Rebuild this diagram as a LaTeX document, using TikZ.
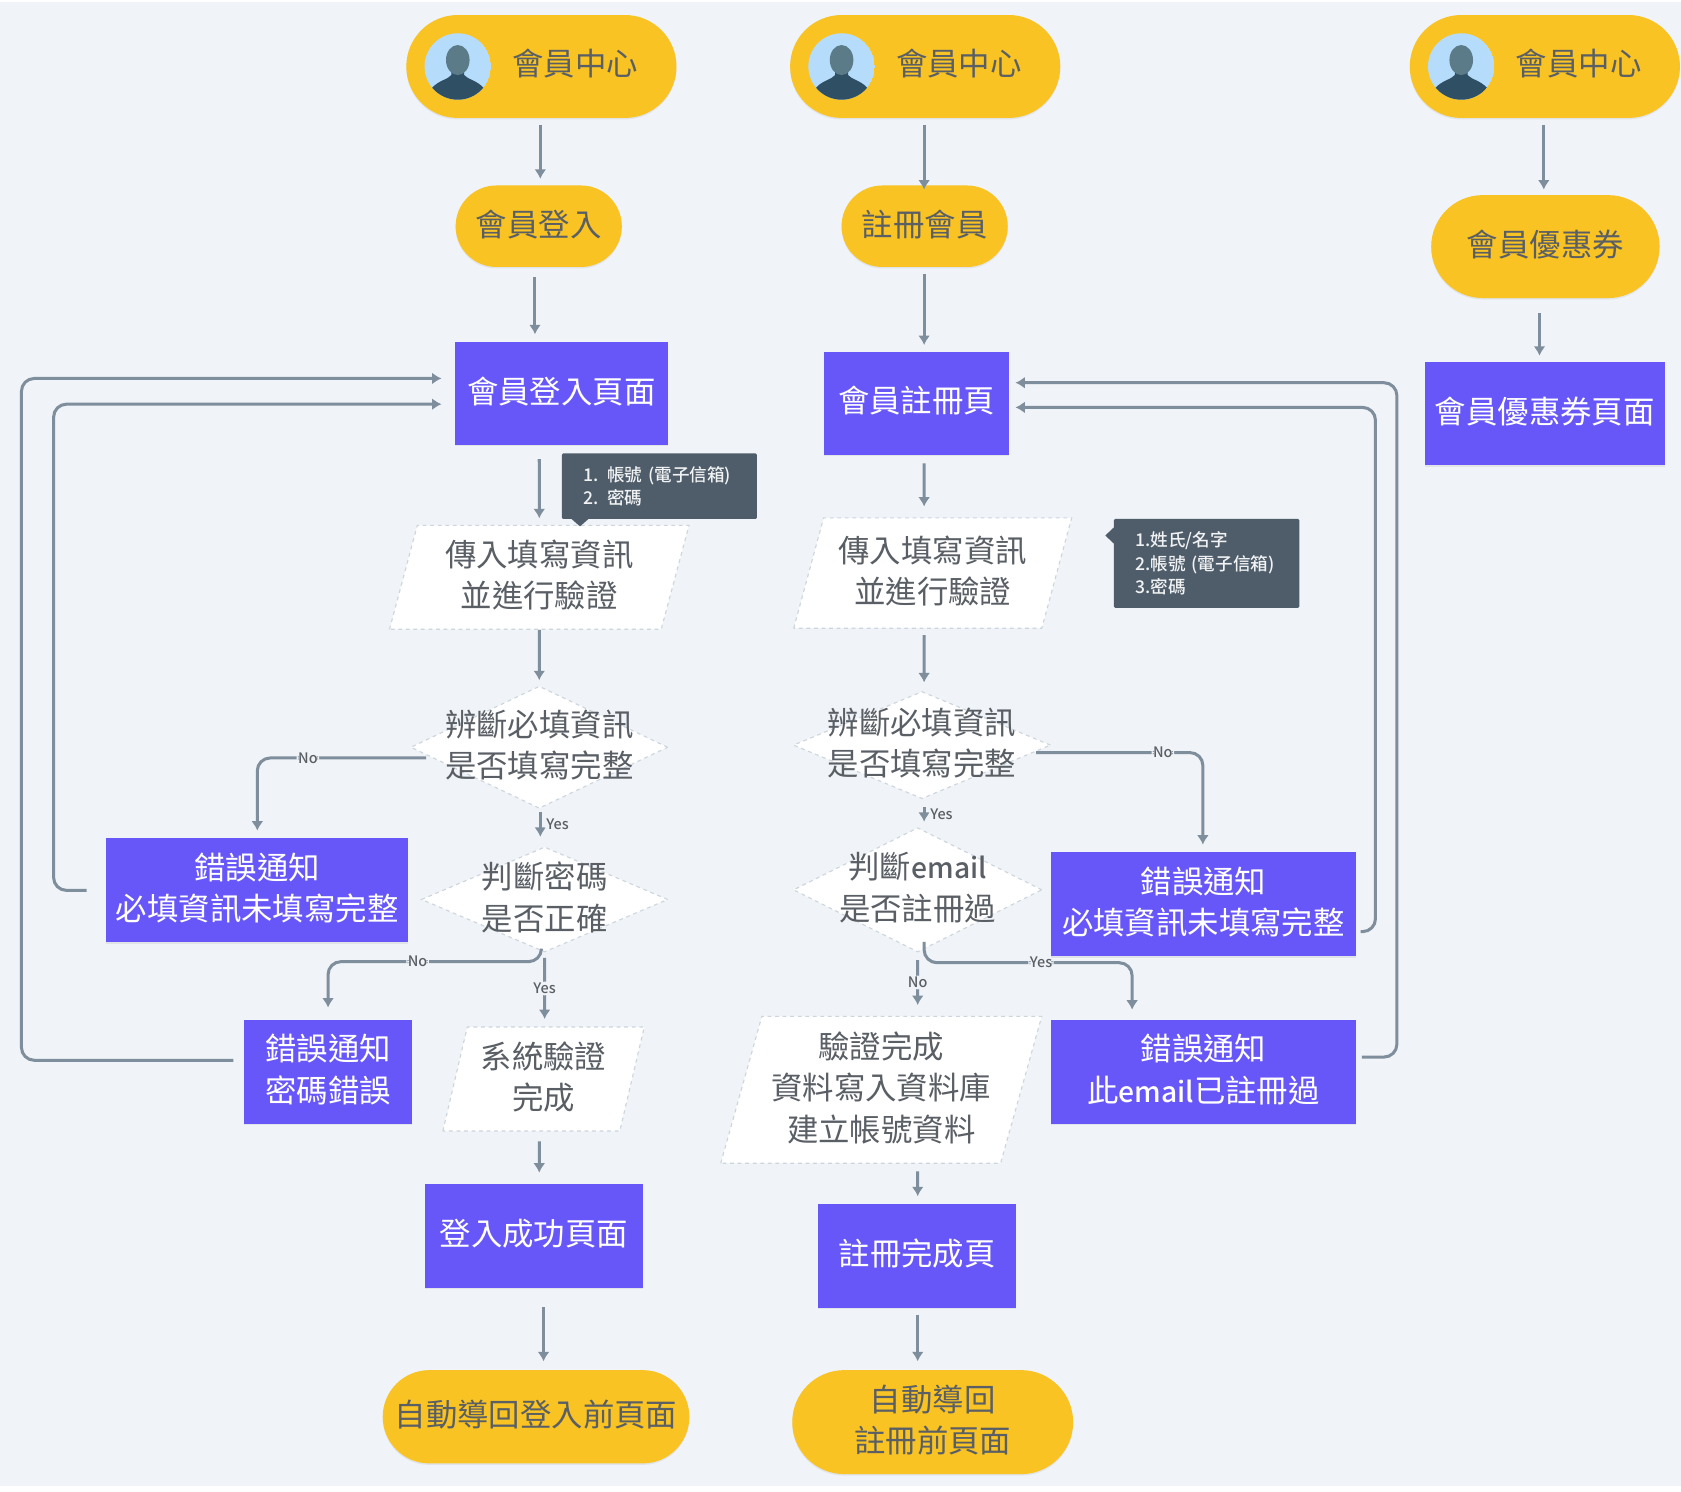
\documentclass[tikz,border=0pt]{standalone}
\usepackage{fontspec}
\setmainfont{Noto Sans CJK TC}[BoldFont={Noto Sans CJK TC Medium}]
\usepackage{xcolor}
\usepackage{tikz}
\usetikzlibrary{arrows.meta,shapes.geometric,shapes.misc,shadows}
\definecolor{bgc}{HTML}{F0F3F7}
\definecolor{pillc}{HTML}{F8C323}
\definecolor{boxc}{HTML}{6857F8}
\definecolor{linec}{HTML}{7F8E9C}
\definecolor{notec}{HTML}{4F5D6B}
\definecolor{edgec}{HTML}{CDD5DD}
\definecolor{inkc}{HTML}{5A5F66}
\definecolor{skyc}{HTML}{B5DCFA}
\definecolor{headc}{HTML}{5C7B88}
\definecolor{bodyc}{HTML}{2F5064}
\newcommand{\mailword}{\textbf{\fontsize{22.5}{33}\selectfont email}}
\tikzset{
    softshadow/.style={drop shadow={shadow xshift=0pt,shadow yshift=-1.2pt,opacity=.13}},
    bigtext/.style={font=\fontsize{25}{33}\selectfont,text depth=5.5pt},
    pill/.style 2 args={shape=rounded rectangle,fill=pillc,softshadow,inner sep=0pt,align=center,text=inkc,
        bigtext,minimum width=#1*0.03cm,minimum height=#2*0.03cm},
    box/.style 2 args={fill=boxc,softshadow,inner sep=0pt,align=center,text=white,
        bigtext,minimum width=#1*0.03cm,minimum height=#2*0.03cm},
    para/.style n args={3}{shape=trapezium,trapezium stretches=true,trapezium left angle=#3,trapezium right angle={180-#3},
        fill=white,draw=edgec,dashed,line width=.9pt,inner sep=0pt,align=center,text=inkc,
        bigtext,minimum width=#1*0.03cm,minimum height=#2*0.03cm},
    dia/.style 2 args={shape=diamond,fill=white,draw=edgec,dashed,line width=.9pt,inner sep=0pt,
        minimum width=#1*0.03cm,minimum height=#2*0.03cm},
    diatext/.style={align=center,text=inkc,solid,bigtext},
    note/.style 2 args={fill=notec,rounded corners=1pt,inner ysep=0pt,inner xsep=20*0.03cm,align=left,text=white!92!notec,
        text width=(#1-40)*0.03cm,font=\fontsize{14}{18.6}\selectfont\bfseries,minimum height=#2*0.03cm},
    flow/.style={draw=linec,line width=2.4pt,rounded corners=0.36cm,-{Latex[length=7.5pt,width=9.5pt]}},
    lab/.style={fill=bgc,inner sep=1.2pt,text=inkc,font=\fontsize{11.5}{13}\selectfont\bfseries},
    avatar/.pic={
        \begin{scope}
            \clip (0,0) circle (0.93cm);
            \fill[skyc] (0,0) circle (0.93cm);
            \fill[bodyc] (-24,20) .. controls (-18,13) and (-9,12) .. (-6,8) -- (-6,3) -- (6,3) -- (6,8) .. controls (9,12) and (18,13) .. (24,20) -- (24,34) -- (-24,34) -- cycle;
            \fill[headc] (0,-6) ellipse (0.33cm and 0.42cm);
        \end{scope}
    }
}
\begin{document}
\begin{tikzpicture}[x=0.03cm,y=-0.03cm]
    \useasboundingbox (0,0) rectangle (1568,1391);
    \fill[bgc] (0,2) rectangle (1568,1386);

    \node[pill={252}{96}] (CtrA) at (505,62) {};
    \node[pill={252}{96}] (CtrB) at (863,62) {};
    \node[pill={252}{96}] (CtrC) at (1441,62) {};
    \pic at (427,62) {avatar};
    \pic at (785,62) {avatar};
    \pic at (1363,62) {avatar};
    \node[text=inkc,bigtext] (CtrAtxt) at (536.5,61.5) {會員中心};
    \node[text=inkc,bigtext] (CtrBtxt) at (894.5,61.5) {會員中心};
    \node[text=inkc,bigtext] (CtrCtxt) at (1472.5,61.5) {會員中心};

    \node[pill={155}{76}] (LogP) at (502.5,211) {會員登入};
    \node[pill={155}{76}] (RegP) at (862.5,211) {註冊會員};
    \node[pill={213}{96}] (CpnP) at (1441.5,230) {會員優惠券};
    \node[box={199}{96}] (LogR) at (523.5,367) {會員登入頁面};
    \node[box={172}{96}] (RegR) at (855,376) {會員註冊頁};
    \node[box={224}{96}] (CpnR) at (1441,386) {會員優惠券頁面};

    \node[para={280}{97}{74}] (InA) at (503,538.5) {傳入填寫資訊\\並進行驗證};
    \node[para={260}{103}{71}] (InB) at (870,534.5) {傳入填寫資訊\\並進行驗證};
    \node[dia={240}{114},label={[diatext]center:辨斷必填資訊\\是否填寫完整}] (DiaA) at (503,697) {};
    \node[dia={240}{100},label={[diatext]center:辨斷必填資訊\\是否填寫完整}] (DiaB) at (860,695) {};
    \node[dia={230}{98},label={[diatext]center:判斷密碼\\是否正確}] (DiaC) at (508,839) {};
    \node[dia={232}{116},label={[diatext]center:判斷\mailword\\是否註冊過}] (DiaD) at (856,830) {};

    \node[box={282}{97}] (ErrA) at (240,830.5) {錯誤通知\\必填資訊未填寫完整};
    \node[box={156}{97}] (ErrB) at (306,999.5) {錯誤通知\\密碼錯誤};
    \node[box={285}{97}] (ErrC) at (1122.5,843.5) {錯誤通知\\必填資訊未填寫完整};
    \node[box={285}{97}] (ErrD) at (1122.5,999.5) {錯誤通知\\此\mailword 已註冊過};
    \node[para={188}{97}{75}] (SysA) at (507,1006.5) {系統驗證\\完成};
    \node[para={300}{137}{72}] (SysB) at (822,1016.5) {驗證完成\\資料寫入資料庫\\建立帳號資料};
    \node[box={204}{97}] (OkR) at (498,1152.5) {登入成功頁面};
    \node[box={185}{97}] (DonR) at (855.5,1171.5) {註冊完成頁};
    \node[pill={286}{87}] (EndA) at (500,1321.5) {自動導回登入前頁面};
    \node[pill={262}{97}] (EndB) at (870,1326.5) {自動導回\\註冊前頁面};

    \node[note={182}{61}] (TipA) at (615,453.5) {1. 帳號 (電子信箱)\\2. 密碼};
    \node[note={173}{83}] (TipB) at (1125.5,525.5) {1.姓氏/名字\\2.帳號 (電子信箱)\\3.密碼};
    \fill[notec] (533,484) -- (549,484) -- (541,491) -- cycle;
    \fill[notec] (1040,491) -- (1040,508) -- (1031,499.5) -- cycle;

    \coordinate (RtA) at (50,600);
    \coordinate (RtB) at (20,600);
    \coordinate (RtC) at (330,897);
    \coordinate (RtD) at (1283,600);
    \coordinate (RtE) at (1303,600);
    \coordinate (RtF) at (1000,898);

    \draw[flow] ([shift={(-1,6)}]CtrA.south) -- ([shift={(1.5,-6)}]LogP.north);
    \draw[flow] ([shift={(-3.5,9)}]LogP.south) -- ([shift={(-24.5,-7)}]LogR.north);
    \draw[flow] ([shift={(-20.5,13)}]LogR.south) -- ([shift={(0,-6)}]InA.north);
    \draw[flow] (InA.south) -- ([shift={(0,-5)}]DiaA.north);
    \draw[flow] ([shift={(1,3)}]DiaA.south) -- node[lab,right,xshift=2.5pt]{Yes} ([shift={(-4,-9)}]DiaC.north);
    \draw[flow] ([shift={(15,10)}]DiaA.west) -| node[lab,pos=.35]{No} ([shift={(0,-7)}]ErrA.north);
    \draw[flow] ([shift={(-18,0)}]ErrA.west) -| (RtA) |- ([shift={(-12,10)}]LogR.west);
    \draw[flow] ([shift={(-10,-10.5)}]ErrB.west) -| (RtB) |- ([shift={(-12,-14)}]LogR.west);
    \draw[flow] ([shift={(-3,-2)}]DiaC.south) |- node[lab,pos=.83]{No} (RtC) -| ([shift={(0,-11)}]ErrB.north);
    \draw[flow] ([shift={(0,5)}]DiaC.south) -- node[lab]{Yes} ([shift={(1,-7)}]SysA.north);
    \draw[flow] ([shift={(-4,9)}]SysA.south) -- ([shift={(5,-10)}]OkR.north);
    \draw[flow] ([shift={(9,18)}]OkR.south) -- ([shift={(7,-8)}]EndA.north);

    \draw[flow] ([shift={(-1,6)}]CtrB.south) -- ([shift={(-.5,4)}]RegP.north);
    \draw[flow] ([shift={(-.5,6)}]RegP.south) -- ([shift={(7,-6)}]RegR.north);
    \draw[flow] ([shift={(7,8)}]RegR.south) -- ([shift={(-8,-10)}]InB.north);
    \draw[flow] ([shift={(-8,6)}]InB.south) -- ([shift={(2,-8)}]DiaB.north);
    \draw[flow] ([shift={(2,7)}]DiaB.south) -- node[lab,right,xshift=2.5pt]{Yes} ([shift={(6,-5)}]DiaD.north);
    \draw[flow] ([shift={(-14,7)}]DiaB.east) -| node[lab,pos=.38]{No} ([shift={(-.5,-7)}]ErrC.north);
    \draw[flow] ([shift={(4,25.5)}]ErrC.east) -| (RtD) |- ([shift={(6,4)}]RegR.east);
    \draw[flow] ([shift={(5,-13.5)}]ErrD.east) -| (RtE) |- ([shift={(6,-19)}]RegR.east);
    \draw[flow] ([shift={(6,-10)}]DiaD.south) |- node[lab,pos=.895]{Yes} (RtF) -| ([shift={(-66.5,-9)}]ErrD.north);
    \draw[flow] ([shift={(0,7)}]DiaD.south) -- node[lab]{No} ([shift={(34,-10)}]SysB.north);
    \draw[flow] ([shift={(34,7)}]SysB.south) -- ([shift={(.5,-7)}]DonR.north);
    \draw[flow] ([shift={(.5,6)}]DonR.south) -- ([shift={(-14,-8)}]EndB.north);

    \draw[flow] ([shift={(-1,6)}]CtrC.south) -- ([shift={(-1.5,-5)}]CpnP.north);
    \draw[flow] ([shift={(-5.5,14)}]CpnP.south) -- ([shift={(-5,-6)}]CpnR.north);
\end{tikzpicture}
\end{document}
